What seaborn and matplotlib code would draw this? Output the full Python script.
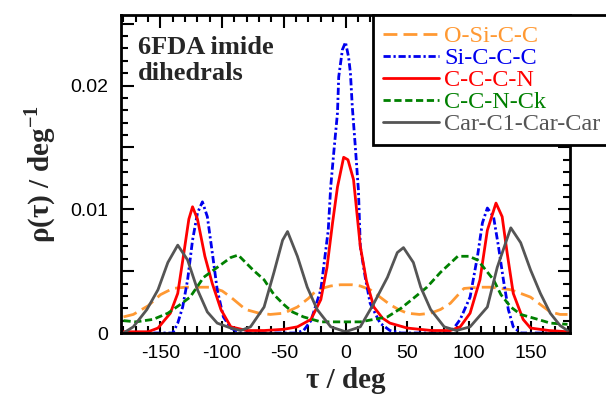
import numpy as np
import pandas as pd
import matplotlib
matplotlib.use("Agg")
import matplotlib.pyplot as plt
import seaborn as sns
from matplotlib.ticker import MultipleLocator, FuncFormatter


# dihedral distributions (tau in deg, rho in 1/deg)
names = ["O-Si-C-C", "Si-C-C-C", "C-C-C-N", "C-C-N-Ck", "Car-C1-Car-Car"]

osicc_x = [-180, -172, -160, -150, -140, -130, -120, -109, -100, -93, -81, -70, -61, -50, -39,
           -30, -23, -12, -4, 5, 12, 20, 28, 36, 43, 50, 60, 69, 77, 85, 96, 108, 118, 126,
           134, 142, 150, 158, 166, 174, 180]
osicc_y = [0.0013, 0.0015, 0.0022, 0.0031, 0.0036, 0.0037, 0.0037, 0.0037, 0.0034, 0.0029,
           0.0019, 0.0016, 0.0015, 0.0016, 0.0021, 0.0028, 0.0035, 0.0038, 0.0039, 0.0039,
           0.0038, 0.0035, 0.0029, 0.0023, 0.0019, 0.0016, 0.0015, 0.0016, 0.0019, 0.0024,
           0.0036, 0.0037, 0.0037, 0.0036, 0.0035, 0.0032, 0.0029, 0.0023, 0.0017, 0.0015,
           0.0015]

siccc_x = [-180, -140, -136, -132, -128, -124, -120, -116, -112, -108, -104, -99, -93, -85,
           -40, -34, -28, -20, -14, -12, -9.5, -6.5, -5.5, -2.5, 0, 2.5, 4, 5.5, 8, 10.5, 12,
           16, 20, 28, 36, 45, 85, 93, 101, 107, 111, 115, 120, 124, 128, 132, 136, 142, 180]
siccc_y = [0, 0, 0.0008, 0.0021, 0.0043, 0.0075, 0.0097, 0.0106, 0.0094, 0.0065, 0.0035,
           0.0013, 0.0004, 0, 0, 0.0002, 0.001, 0.0035, 0.0083, 0.0118, 0.0146, 0.0178,
           0.0207, 0.0229, 0.0235, 0.0223, 0.021, 0.0183, 0.015, 0.0115, 0.007, 0.0045,
           0.0024, 0.0008, 0.0002, 0, 0, 0.0011, 0.0029, 0.0062, 0.0089, 0.0101, 0.0094,
           0.007, 0.0043, 0.0019, 0.0005, 0, 0]

cccn_x = [-180, -160, -152, -142, -136, -131, -127, -124, -120, -114, -108, -101, -93, -80,
          -66, -50, -39, -28, -20, -15, -10.5, -6.5, -1.5, 2, 6.5, 12, 17, 23, 30, 36, 50,
          70, 85, 93, 101, 109, 115, 122, 127, 131, 136, 144, 150, 165, 180]
cccn_y = [0.0001, 0.0001, 0.0004, 0.0016, 0.0032, 0.0065, 0.0092, 0.0102, 0.0092, 0.0062,
          0.0040, 0.0019, 0.0005, 0.0002, 0.0002, 0.0003, 0.0005, 0.0011, 0.0027, 0.0053,
          0.0089, 0.0118, 0.0142, 0.0140, 0.0124, 0.0070, 0.0042, 0.0021, 0.0012, 0.0008,
          0.0004, 0.0002, 0.0002, 0.0005, 0.0016, 0.0043, 0.0083, 0.0105, 0.0094, 0.0065,
          0.0032, 0.0011, 0.0004, 0.0002, 0.0001]

ccnck_x = [-180, -170, -156, -144, -134, -126, -115, -104, -93, -87, -83, -75, -66, -58, -50,
           -43, -34, -20, -4, 12, 23, 34, 45, 55, 66, 77, 91, 100, 107, 112, 120, 126, 134,
           142, 156, 166, 180]
ccnck_y = [0.001, 0.0009, 0.0011, 0.0016, 0.0023, 0.0029, 0.0045, 0.0053, 0.0061, 0.0063,
           0.0059, 0.0051, 0.0043, 0.0031, 0.0023, 0.0017, 0.0013, 0.0009, 0.0009, 0.0009,
           0.0011, 0.0013, 0.002, 0.0028, 0.0037, 0.0049, 0.0062, 0.0062, 0.0059, 0.0053,
           0.0043, 0.0031, 0.0021, 0.0015, 0.0011, 0.0008, 0.0007]

car_x = [-180, -172, -161, -152, -144, -136, -128, -120, -112, -104, -93, -85, -77, -66, -58,
         -51, -47, -39, -31, -23, -12, 0, 12, 23, 34, 42, 47, 55, 61, 69, 80, 90, 101, 115,
         123, 134, 142, 150, 158, 166, 174, 180]
car_y = [0, 0.0005, 0.0019, 0.0035, 0.0057, 0.0071, 0.0059, 0.0035, 0.0017, 0.0008, 0.0004,
         0.0002, 0.0005, 0.0021, 0.0049, 0.0075, 0.0082, 0.0062, 0.0037, 0.0019, 0.0005,
         0.0001, 0.0005, 0.0024, 0.0045, 0.0065, 0.0069, 0.0057, 0.0037, 0.0019, 0.0005,
         0.0002, 0.0005, 0.0021, 0.0053, 0.0085, 0.0073, 0.0051, 0.0032, 0.0016, 0.0006,
         0.0002]

series = [(osicc_x, osicc_y), (siccc_x, siccc_y), (cccn_x, cccn_y),
          (ccnck_x, ccnck_y), (car_x, car_y)]

colors = {"O-Si-C-C": "#ff9933", "Si-C-C-C": "#0000ee", "C-C-C-N": "#ff0000",
          "C-C-N-Ck": "#008000", "Car-C1-Car-Car": "#555555"}
dashes = {"O-Si-C-C": (5, 2.2), "Si-C-C-C": (2.6, 1, 0.8, 1), "C-C-C-N": "",
          "C-C-N-Ck": (2.6, 1.3), "Car-C1-Car-Car": ""}

frames = []
for name, (xs, ys) in zip(names, series):
    frames.append(pd.DataFrame({"tau": xs, "rho": ys, "dihedral": name}))
df = pd.concat(frames, ignore_index=True)

sns.set_style("ticks")
plt.rcParams["font.family"] = ["Liberation Sans", "DejaVu Sans"]
plt.rcParams["mathtext.fontset"] = "custom"
plt.rcParams["mathtext.rm"] = "Liberation Serif"
plt.rcParams["mathtext.bf"] = "Liberation Serif:bold"

fig = plt.figure(figsize=(6.06, 4.05), dpi=100)
ax = fig.add_axes([121 / 606, 72 / 405, 449 / 606, 318 / 405])

sns.lineplot(data=df, x="tau", y="rho", hue="dihedral", style="dihedral",
             hue_order=names, style_order=names, palette=colors, dashes=dashes,
             estimator=None, sort=False, linewidth=2.0, legend=False, ax=ax)

ax.set_xlim(-182, 182)
ax.set_ylim(0, 0.0257)

ax.xaxis.set_major_locator(MultipleLocator(50))
ax.xaxis.set_minor_locator(MultipleLocator(10))
ax.yaxis.set_major_locator(MultipleLocator(0.005))
ax.yaxis.set_minor_locator(MultipleLocator(0.001))


def yfmt(v, pos):
    if abs(v) < 1e-9:
        return "0"
    if abs(round(v / 0.01) * 0.01 - v) < 1e-9:
        return f"{v:.2f}"
    return ""


ax.yaxis.set_major_formatter(FuncFormatter(yfmt))
ax.xaxis.set_major_formatter(FuncFormatter(lambda v, p: f"{v:.0f}"))

ax.tick_params(which="both", direction="in", top=True, right=True, width=1.5,
               labelsize=14, colors="black")
ax.tick_params(which="major", length=9)
ax.tick_params(which="minor", length=5)
ax.tick_params(axis="x", pad=9)
ax.tick_params(axis="y", pad=9)
for s in ax.spines.values():
    s.set_linewidth(2)
    s.set_color("black")

ax.set_xlabel("τ / deg", family="Liberation Serif", fontweight="bold", fontsize=21,
              labelpad=3)
ax.set_ylabel(r"ρ(τ) / deg$^{\mathbf{-1}}$", family="Liberation Serif",
              fontweight="bold", fontsize=21, labelpad=9)

ax.text(0.038, 0.935, "6FDA imide\ndihedrals", transform=ax.transAxes,
        family="Liberation Serif", fontweight="bold", fontsize=19, va="top",
        ha="left", linespacing=1.2)

leg = ax.legend(handles=ax.lines[:5], labels=names, loc="upper left",
                bbox_to_anchor=(373 / 606, 1 - 15 / 405), bbox_transform=fig.transFigure,
                borderaxespad=0, frameon=True, fancybox=False, framealpha=1,
                edgecolor="black", prop={"family": "Liberation Serif", "size": 17.5},
                handlelength=2.3, handletextpad=0.2, labelspacing=0.0, borderpad=0.42)
leg.get_frame().set_linewidth(2)
for txt, name in zip(leg.get_texts(), names):
    txt.set_color(colors[name])

fig.savefig("out.png", dpi=100, facecolor="white")
